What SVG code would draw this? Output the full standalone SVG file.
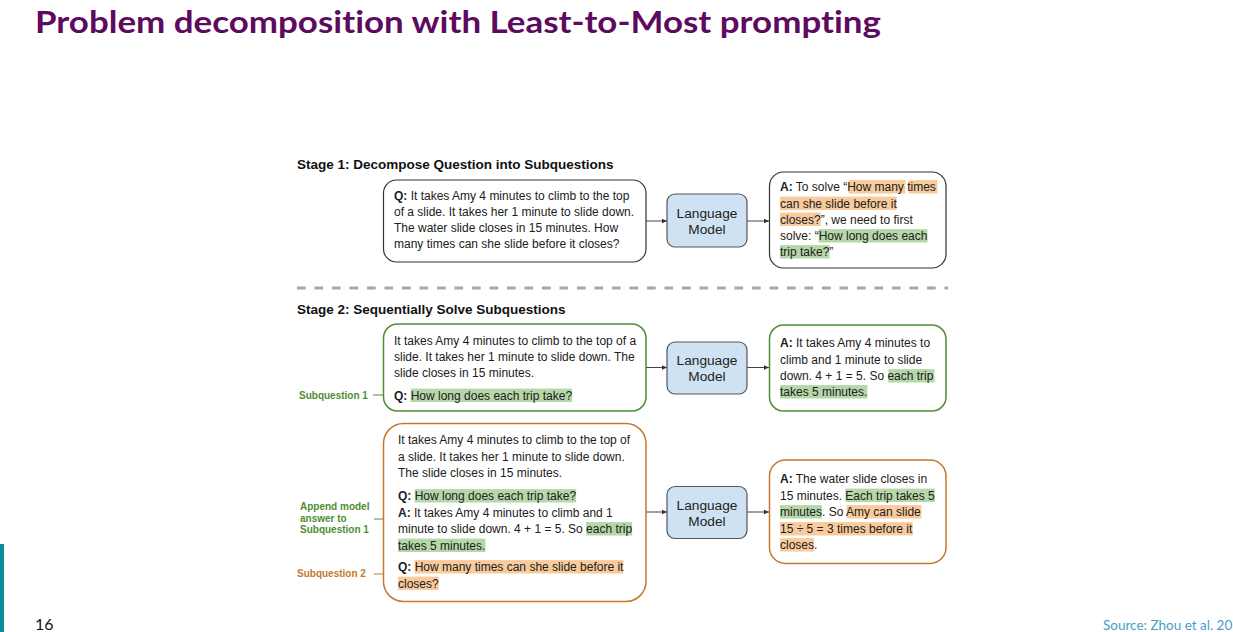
<svg xmlns="http://www.w3.org/2000/svg" width="1233" height="632" viewBox="0 0 1233 632">
<defs>
<style>
.t{font-family:"Liberation Sans",Arial,sans-serif;font-size:12px;fill:#202020}
.b{font-weight:700}
.h{font-family:"Liberation Sans",Arial,sans-serif;font-size:13.5px;font-weight:700;fill:#111}
.lm{font-family:"Liberation Sans",Arial,sans-serif;font-size:13.7px;fill:#222;text-anchor:middle}
.lab{font-family:"Liberation Sans",Arial,sans-serif;font-size:10px;font-weight:700}
.box{fill:#fff;stroke:#333;stroke-width:1.2}
.gbox{fill:#fff;stroke:#4e8d34;stroke-width:1.5}
.obox{fill:#fff;stroke:#c4782e;stroke-width:1.5}
.lmbox{fill:#cfe2f3;stroke:#555;stroke-width:1.2}
.ho{fill:#f9cb9c}
.hg{fill:#b6d7a8}
.con{stroke:#444;stroke-width:1;fill:none}
</style>
<marker id="arr" markerWidth="6" markerHeight="6" refX="5" refY="3" orient="auto" markerUnits="userSpaceOnUse">
<path d="M0,0.8 L5,3 L0,5.2 Z" fill="#333"/>
</marker>
</defs>
<rect width="1233" height="632" fill="#fff"/>
<text x="35" y="33" font-family="Lato,'Liberation Sans',sans-serif" font-weight="700" font-size="31" fill="#5e0a5e" style="font-variant-ligatures:none" textLength="846" lengthAdjust="spacingAndGlyphs">Problem decomposition with Least-to-Most prompting</text>

<text class="h" x="297" y="169">Stage 1: Decompose Question into Subquestions</text>
<line x1="297" y1="288" x2="948" y2="288" stroke="#a8a8a8" stroke-width="3" stroke-dasharray="8.7 8.8"/>
<text class="h" x="297" y="314">Stage 2: Sequentially Solve Subquestions</text>

<g id="connectors">
<line class="con" x1="646" y1="221" x2="667" y2="221" marker-end="url(#arr)"/>
<line class="con" x1="747" y1="221" x2="769" y2="221" marker-end="url(#arr)"/>
<line class="con" x1="646" y1="367.5" x2="667" y2="367.5" marker-end="url(#arr)"/>
<line class="con" x1="747" y1="367.5" x2="769" y2="367.5" marker-end="url(#arr)"/>
<line class="con" x1="646" y1="512" x2="667" y2="512" marker-end="url(#arr)"/>
<line class="con" x1="747" y1="512" x2="769" y2="512" marker-end="url(#arr)"/>
<line x1="373" y1="395" x2="384" y2="395" stroke="#4e8d34" stroke-width="1"/>
<line x1="374" y1="519" x2="389" y2="519" stroke="#4e8d34" stroke-width="1"/>
<line x1="374" y1="574" x2="389" y2="574" stroke="#c4782e" stroke-width="1"/>
</g>

<g id="s1-question">
<rect class="box" x="383.5" y="180" width="262.5" height="82" rx="13"/>
<text class="t" x="394" y="200"><tspan class="b">Q:</tspan> It takes Amy 4 minutes to climb to the top</text>
<text class="t" x="394" y="216">of a slide. It takes her 1 minute to slide down.</text>
<text class="t" x="394" y="232">The water slide closes in 15 minutes. How</text>
<text class="t" x="394" y="248">many times can she slide before it closes?</text>
</g>

<g id="s1-lm">
<rect class="lmbox" x="667" y="194" width="80" height="53" rx="8"/>
<text class="lm" x="707" y="218">Language</text>
<text class="lm" x="707" y="234">Model</text>
</g>

<g id="s1-answer">
<rect class="box" x="769.5" y="172" width="176.5" height="96" rx="14"/>
<rect class="ho" x="848.7" y="180.1" width="56.7" height="13.4"/>
<rect class="ho" x="908.7" y="180.1" width="28.7" height="13.4"/>
<rect class="ho" x="780" y="196.6" width="116.7" height="13.4"/>
<rect class="ho" x="780" y="212.6" width="40.7" height="13.4"/>
<rect class="hg" x="818.7" y="229.1" width="108.7" height="13.4"/>
<rect class="hg" x="780" y="245.1" width="49.4" height="13.4"/>
<text class="t" x="780" y="191"><tspan class="b">A:</tspan> To solve “How many times</text>
<text class="t" x="780" y="207.5">can she slide before it</text>
<text class="t" x="780" y="223.5">closes?”, we need to first</text>
<text class="t" x="780" y="240">solve: “How long does each</text>
<text class="t" x="780" y="256">trip take?”</text>
</g>

<g id="s2-question1">
<rect class="gbox" x="383.5" y="324" width="262.5" height="87" rx="14"/>
<rect class="hg" x="410.7" y="388.6" width="161.4" height="13.4"/>
<text class="t" x="394" y="345">It takes Amy 4 minutes to climb to the top of a</text>
<text class="t" x="394" y="361">slide. It takes her 1 minute to slide down. The</text>
<text class="t" x="394" y="377">slide closes in 15 minutes.</text>
<text class="t" x="394" y="399.5"><tspan class="b">Q:</tspan> How long does each trip take?</text>
</g>
<text class="lab" x="299" y="398.5" fill="#4e8d34">Subquestion 1</text>

<g id="s2-lm1">
<rect class="lmbox" x="667" y="342" width="80" height="52" rx="8"/>
<text class="lm" x="707" y="365">Language</text>
<text class="lm" x="707" y="381">Model</text>
</g>

<g id="s2-answer1">
<rect class="gbox" x="769.5" y="325" width="176.5" height="86" rx="14"/>
<rect class="hg" x="888.4" y="369.1" width="46" height="13.4"/>
<rect class="hg" x="780" y="385.1" width="87.4" height="13.4"/>
<text class="t" x="780" y="347"><tspan class="b">A:</tspan> It takes Amy 4 minutes to</text>
<text class="t" x="780" y="363.5">climb and 1 minute to slide</text>
<text class="t" x="780" y="380">down. 4 + 1 = 5. So each trip</text>
<text class="t" x="780" y="396">takes 5 minutes.</text>
</g>

<g id="s2-question2">
<rect class="obox" x="383.5" y="423.5" width="262.5" height="178" rx="20"/>
<rect class="hg" x="414.7" y="489.1" width="161.4" height="13.4"/>
<rect class="hg" x="586.1" y="522.1" width="46" height="13.4"/>
<rect class="hg" x="398" y="538.6" width="87.4" height="13.4"/>
<rect class="ho" x="414.7" y="560.1" width="208.7" height="13.4"/>
<rect class="ho" x="398" y="576.6" width="40.7" height="13.4"/>
<text class="t" x="398" y="444">It takes Amy 4 minutes to climb to the top of</text>
<text class="t" x="398" y="460.5">a slide. It takes her 1 minute to slide down.</text>
<text class="t" x="398" y="477">The slide closes in 15 minutes.</text>
<text class="t" x="398" y="500"><tspan class="b">Q:</tspan> How long does each trip take?</text>
<text class="t" x="398" y="516.5"><tspan class="b">A:</tspan> It takes Amy 4 minutes to climb and 1</text>
<text class="t" x="398" y="533">minute to slide down. 4 + 1 = 5. So each trip</text>
<text class="t" x="398" y="549.5">takes 5 minutes.</text>
<text class="t" x="398" y="571"><tspan class="b">Q:</tspan> How many times can she slide before it</text>
<text class="t" x="398" y="587.5">closes?</text>
</g>
<g fill="#4e8d34">
<text class="lab" x="300" y="510">Append model</text>
<text class="lab" x="300" y="521.5">answer to</text>
<text class="lab" x="300" y="533">Subquestion 1</text>
</g>
<text class="lab" x="297" y="577" fill="#c4782e">Subquestion 2</text>

<g id="s2-lm2">
<rect class="lmbox" x="667" y="486.5" width="80" height="52" rx="8"/>
<text class="lm" x="707" y="509.5">Language</text>
<text class="lm" x="707" y="525.5">Model</text>
</g>

<g id="s2-answer2">
<rect class="obox" x="769.5" y="460" width="176.5" height="103.5" rx="16"/>
<rect class="hg" x="845.4" y="488.6" width="89.4" height="13.4"/>
<rect class="hg" x="780" y="505.1" width="42" height="13.4"/>
<rect class="ho" x="846.7" y="505.1" width="74.7" height="13.4"/>
<rect class="ho" x="780" y="522.1" width="132.7" height="13.4"/>
<rect class="ho" x="780" y="538.1" width="34" height="13.4"/>
<text class="t" x="780" y="483"><tspan class="b">A:</tspan> The water slide closes in</text>
<text class="t" x="780" y="499.5">15 minutes. Each trip takes 5</text>
<text class="t" x="780" y="516">minutes. So Amy can slide</text>
<text class="t" x="780" y="533">15 ÷ 5 = 3 times before it</text>
<text class="t" x="780" y="549">closes.</text>
</g>

<rect x="0" y="544" width="4" height="88" fill="#0a8a9a"/>
<text x="35" y="630" font-family="Lato,'Liberation Sans',sans-serif" font-size="16" fill="#111">16</text>
<text x="1103" y="630" font-family="Lato,'Liberation Sans',sans-serif" font-size="13.5" fill="#4a9cc8">Source: Zhou et al. 20</text>
</svg>
